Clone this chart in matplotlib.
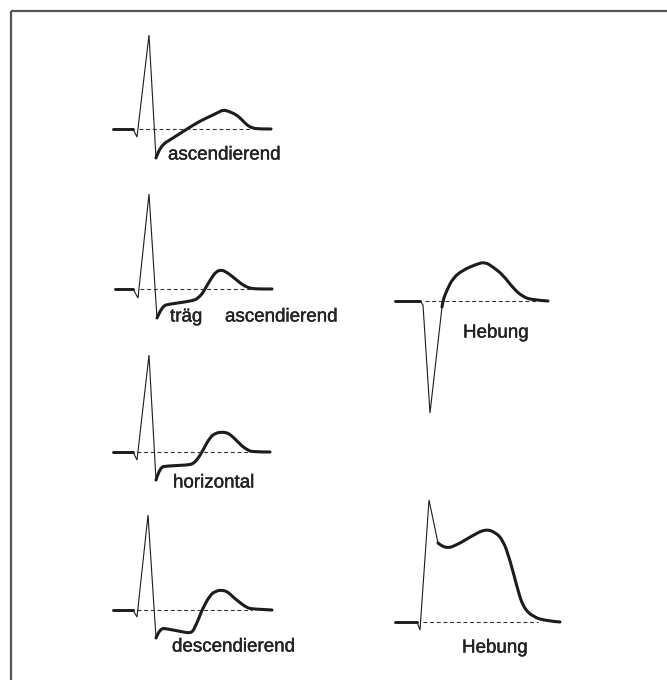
import matplotlib
matplotlib.use("Agg")
import matplotlib.pyplot as plt
from matplotlib.path import Path
from matplotlib.patches import PathPatch
import matplotlib.patheffects as pe

# ST-segment shapes: t = time offset, v = amplitude (px, up = +)
asc_t = [0, 20, 24, 36, 43, 47, 60, 74, 87, 100, 106, 110, 115, 124, 130, 134, 139, 146, 158]
asc_v = [0, 0, -8, 94, -29, -17, -9, 0, 8, 14, 17, 19, 18, 14, 8, 4, 1, 0, 0]

trag_t = [0, 18, 23, 34, 42, 47, 55, 70, 80, 83, 87, 90, 97, 101, 105, 110, 118, 124, 128, 133, 137, 143, 157]
trag_v = [0, 0, -9, 95, -29, -17, -15, -13, -11, -9, -5, 0, 12, 17, 19, 18, 12, 7, 4, 1.5, 0.5, 0, 0]

horiz_t = [0, 20, 24, 36, 43, 47, 54, 75, 79, 82, 86, 89, 97, 103, 109, 115, 120, 125, 130, 135, 139, 157]
horiz_v = [0, 0, -8, 97, -28, -15, -14, -13, -12, -10, -5, 0, 15, 19, 20, 19, 15, 10, 5, 2, 0, 0]

desc_t = [0, 20, 24, 35, 43, 47, 55, 70, 77, 80, 82, 86, 89, 97, 103, 109, 115, 120, 125, 130, 135, 139, 159]
desc_v = [0, 0, -7, 95, -28, -18, -19, -22, -23, -21, -17, -8, 0, 15, 19, 20, 18, 13, 9, 5, 2, 1, 0]

heb1_t = [0, 25, 28, 35, 47, 48, 52, 58, 68, 82, 90, 98, 108, 118, 128, 138, 153]
heb1_v = [0, 0, -4, -112, -6, 1, 11, 23, 31, 37, 39, 34, 26, 13, 4, 1, 0]

heb2_t = [0, 22, 25, 34, 43, 50, 62, 75, 90, 100, 108, 115, 122, 128, 138, 152, 165]
heb2_v = [0, 0, -8, 122, 79, 73, 77, 85, 93, 90, 82, 62, 35, 15, 5, 1, 0]

labels = ["ascendierend", "träg", "horizontal", "descendierend", "Hebung", "Hebung"]
extra_label = "ascendierend"

traces = [(asc_t, asc_v), (trag_t, trag_v), (horiz_t, horiz_v),
          (desc_t, desc_v), (heb1_t, heb1_v), (heb2_t, heb2_v)]

# layout: baseline origin (px), thin QRS index range, dashed baseline range
origins = [(113, 129), (115, 289), (113, 452), (113, 610), (395, 301), (395, 622)]
thin = [(1, 4), (1, 4), (1, 4), (1, 4), (1, 4), (1, 4)]
dashes = [(26, 139), (25, 137), (24, 139), (24, 139), (30, 142), (28, 143)]
label_pos = [(168, 155), (170, 317), (173, 483), (172, 647), (463, 333), (462, 648)]

ink = "#1c1c1c"


def smooth_path(xs, ys):
    # quadratic bezier through the midpoints, read points act as control points
    verts = [(xs[0], ys[0])]
    codes = [Path.MOVETO]
    n = len(xs)
    for i in range(1, n - 1):
        verts.append((xs[i], ys[i]))
        if i == n - 2:
            verts.append((xs[n - 1], ys[n - 1]))
        else:
            verts.append(((xs[i] + xs[i + 1]) / 2, (ys[i] + ys[i + 1]) / 2))
        codes += [Path.CURVE3, Path.CURVE3]
    if n == 2:
        verts.append((xs[1], ys[1]))
        codes.append(Path.LINETO)
    return Path(verts, codes)


fig = plt.figure(figsize=(6.67, 6.80), dpi=100)
ax = fig.add_axes([0, 0, 1, 1])
ax.set_xlim(0, 667)
ax.set_ylim(680, 0)
ax.axis("off")

for (t, v), (x0, y0), (a, b), (d0, d1) in zip(traces, origins, thin, dashes):
    x = [x0 + ti for ti in t]
    y = [y0 - vi for vi in v]
    ax.plot([x0 + d0, x0 + d1], [y0, y0], color="#333333", lw=0.8,
            dashes=(3.5, 2.5))
    ax.plot(x[:a + 1], y[:a + 1], color=ink, lw=2.1, solid_capstyle="round")
    ax.plot(x[a:b + 1], y[a:b + 1], color=ink, lw=0.8, solid_joinstyle="miter")
    ax.add_patch(PathPatch(smooth_path(x[b:], y[b:]), fill=False,
                           edgecolor=ink, lw=2.2, capstyle="round",
                           joinstyle="round"))

stroke = [pe.withStroke(linewidth=0.3, foreground="#222222")]
for txt, (lx, ly) in zip(labels, label_pos):
    ax.text(lx, ly, txt, fontsize=13.5, family="Liberation Sans",
            color="#222222", ha="left", va="center", path_effects=stroke)
ax.text(225, 317, extra_label, fontsize=13.5, family="Liberation Sans",
        color="#222222", ha="left", va="center", path_effects=stroke)

# frame (top and left edges only)
ax.plot([11, 667], [10.5, 10.5], color="#555555", lw=1.6, solid_capstyle="butt")
ax.plot([11, 11], [10.5, 680], color="#555555", lw=1.6, solid_capstyle="butt")

fig.savefig("out.png", dpi=100)
